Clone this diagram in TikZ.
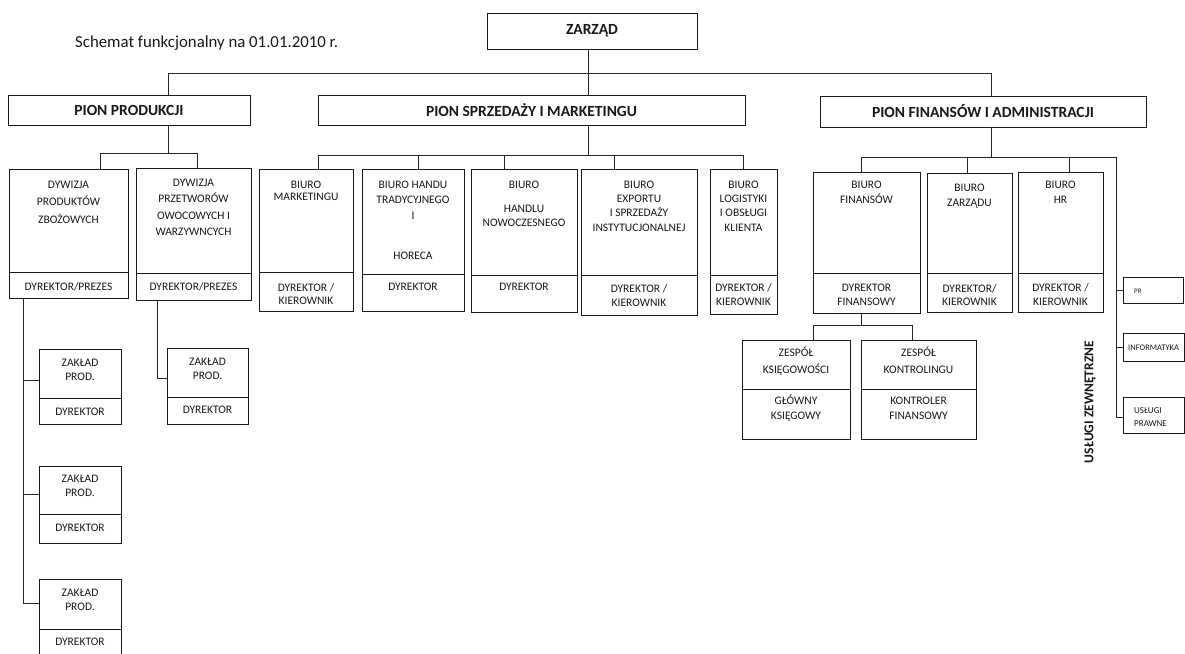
\documentclass[tikz,border=0pt]{standalone}
\usepackage{fontspec}
\setmainfont{Carlito}
\newcommand\obox[6]{%
  \node[box, minimum width={(#4-(#2))*1pt}, minimum height={(#5-(#3))*1pt}] (#1) at (#2,#3) {};
  \draw[divl] (#1.west |- 0,#6) -- (#1.east |- 0,#6);}
\begin{document}
\begin{tikzpicture}[x=1pt,y=-1pt,
  box/.style={draw=black!90, line width=1pt, inner sep=0pt, outer sep=0pt, anchor=north west},
  divl/.style={draw=black!90, line width=0.9pt},
  conn/.style={draw=black!85, line width=0.9pt},
  txt/.style={inner sep=0pt, align=center, anchor=base, text=black!90, font=\fontsize{11.5}{#1}\selectfont},
  txt/.default=14,
  ltxt/.style={inner sep=0pt, align=left, anchor=base west, text=black!90, font=\fontsize{#1}{13}\selectfont},
  pion/.style={font=\bfseries\fontsize{15.5}{18}\selectfont, text=black!90}]
\fill[white] (0,0) rectangle (1185,653);
\useasboundingbox (0,0) rectangle (1185,653);

% title
\node[anchor=base west, inner sep=0pt, text=black!90, font=\fontsize{16.8}{19}\selectfont] (title) at (75,47) {Schemat funkcjonalny na 01.01.2010 r.};

% top level
\node[box, pion, minimum width=210pt, minimum height=36pt] (zarzad) at (487,13) {ZARZĄD};
\node[box, pion, minimum width=242pt, minimum height=30pt] (pionP) at (8,95) {PION PRODUKCJI};
\node[box, pion, minimum width=427pt, minimum height=30pt] (pionS) at (318,95) {PION SPRZEDAŻY I MARKETINGU};
\node[box, pion, minimum width=326pt, minimum height=31pt] (pionF) at (820,96) {PION FINANSÓW I ADMINISTRACJI};

% boxes with two parts
\obox{d1}{9}{169}{128}{298}{272}
\obox{d2}{136}{168}{251}{300}{273}
\obox{bm}{259}{169}{353}{311}{272}
\obox{bh}{362}{169}{464}{311}{274}
\obox{bn}{471}{169}{577}{312}{275}
\obox{be}{581}{169}{697}{315}{275}
\obox{bl}{710}{169}{777}{314}{275}
\obox{bf}{813}{172}{920}{313}{273}
\obox{bz}{927}{173}{1012}{312}{273}
\obox{bhr}{1018}{172}{1103}{312}{273}
\obox{zk}{742}{340}{850}{439}{389}
\obox{zc}{861}{340}{976}{439}{389}
\obox{zA}{39}{349}{121}{424}{398}
\obox{zB}{39}{466}{121}{543}{514}
\obox{zC}{39}{579}{121}{662}{629}
\obox{zD}{167}{348}{248}{424}{397}

% external services
\node[box, minimum width=60pt, minimum height=26pt] (pr) at (1123,277) {};
\node[box, minimum width=61pt, minimum height=28pt] (inf) at (1123,333) {};
\node[box, minimum width=61pt, minimum height=36pt] (prawne) at (1123,397) {};
\node[ltxt=7] (prt) at (1134,293) {PR};
\node[ltxt=8.5] (inft) at (1128,350) {INFORMATYKA};
\node[ltxt=9] (prawnet) at (1134,426) {USŁUGI\\PRAWNE};
\node[rotate=90, inner sep=0pt, text=black!90, font=\bfseries\fontsize{13.5}{16}\selectfont] (uz) at (1090,402) {USŁUGI ZEWNĘTRZNE};

% texts (anchor base = baseline of last line)
\node[txt=17.5] (d1a) at (d1.north |- 0,223) {DYWIZJA\\PRODUKTÓW\\ZBOŻOWYCH};
\node[txt] (d1b) at (d1.north |- 0,290) {DYREKTOR/PREZES};
\node[txt=16.5] (d2a) at (d2.north |- 0,235.5) {DYWIZJA\\PRZETWORÓW\\OWOCOWYCH I\\WARZYWNCYCH};
\node[txt] (d2b) at (d2.north |- 0,290) {DYREKTOR/PREZES};
\node[txt=12.5] (bma) at (bm.north |- 0,200.5) {BIURO\\MARKETINGU};
\node[txt=13.5] (bmb) at (bm.north |- 0,304.5) {DYREKTOR /\\KIEROWNIK};
\node[txt=15.5] (bha) at (bh.north |- 0,259.5) {BIURO HANDU\\TRADYCYJNEGO\\I\\[25pt]HORECA};
\node[txt] (bhb) at (bh.north |- 0,290) {DYREKTOR};
\node[txt=14] (bna) at (bn.north |- 0,226) {BIURO\\[10pt]HANDLU\\NOWOCZESNEGO};
\node[txt] (bnb) at (bn.north |- 0,290) {DYREKTOR};
\node[txt=14.3] (bea) at (be.north |- 0,231) {BIURO\\EXPORTU\\I SPRZEDAŻY\\INSTYTUCJONALNEJ};
\node[txt=14] (beb) at (be.north |- 0,306) {DYREKTOR /\\KIEROWNIK};
\node[txt=14.3] (bla) at (bl.north |- 0,231) {BIURO\\LOGISTYKI\\I OBSŁUGI\\KLIENTA};
\node[txt=14] (blb) at (bl.north |- 0,305) {DYREKTOR /\\KIEROWNIK};
\node[txt=15] (bfa) at (bf.north |- 0,203) {BIURO\\FINANSÓW};
\node[txt=14] (bfb) at (bf.north |- 0,305) {DYREKTOR\\FINANSOWY};
\node[txt=15] (bza) at (bz.north |- 0,206) {BIURO\\ZARZĄDU};
\node[txt=13.5] (bzb) at (bz.north |- 0,305.5) {DYREKTOR/\\KIEROWNIK};
\node[txt=15] (bhra) at (bhr.north |- 0,203) {BIURO\\HR};
\node[txt=14] (bhrb) at (bhr.north |- 0,305) {DYREKTOR /\\KIEROWNIK};
\node[txt=17] (zka) at (zk.north |- 0,373) {ZESPÓŁ\\KSIĘGOWOŚCI};
\node[txt=15.5] (zkb) at (zk.north |- 0,419.5) {GŁÓWNY\\KSIĘGOWY};
\node[txt=17] (zca) at (zc.north |- 0,373) {ZESPÓŁ\\KONTROLINGU};
\node[txt=15.5] (zcb) at (zc.north |- 0,419.5) {KONTROLER\\FINANSOWY};
\node[txt=14.5] (zAa) at (zA.north |- 0,380.5) {ZAKŁAD\\PROD.};
\node[txt] (zAb) at (zA.north |- 0,415) {DYREKTOR};
\node[txt=14.5] (zBa) at (zB.north |- 0,496.5) {ZAKŁAD\\PROD.};
\node[txt] (zBb) at (zB.north |- 0,531) {DYREKTOR};
\node[txt=14.5] (zCa) at (zC.north |- 0,610.5) {ZAKŁAD\\PROD.};
\node[txt] (zCb) at (zC.north |- 0,645) {DYREKTOR};
\node[txt=14.5] (zDa) at (zD.north |- 0,379.5) {ZAKŁAD\\PROD.};
\node[txt] (zDb) at (zD.north |- 0,413) {DYREKTOR};

% connectors: top
\coordinate (tA) at (168,73);
\coordinate (tB) at (991,73);
\draw[conn] (zarzad.south -| 588,0) -- (pionS.north -| 588,0);
\draw[conn] (pionP.north -| tA) -- (tA) -- (tB) -- (pionF.north -| tB);
% production
\coordinate (pM) at (168,153);
\coordinate (pA) at (100,153);
\coordinate (pB) at (197,153);
\draw[conn] (pionP.south -| pM) -- (pM);
\draw[conn] (d1.north -| pA) -- (pA) -- (pB) -- (d2.north -| pB);
\coordinate (v1) at (23,380);
\coordinate (v2) at (23,494);
\coordinate (v3) at (23,603);
\draw[conn] (d1.south -| v1) -- (v3) -- (zC.west |- v3);
\draw[conn] (v1) -- (zA.west |- v1);
\draw[conn] (v2) -- (zB.west |- v2);
\coordinate (w1) at (157,378);
\draw[conn] (d2.south -| w1) -- (w1) -- (zD.west |- w1);
% sales
\coordinate (sM) at (588,155);
\coordinate (s1) at (318,155);
\coordinate (s2) at (418,155);
\coordinate (s3) at (504,155);
\coordinate (s4) at (614,155);
\coordinate (s5) at (743,155);
\draw[conn] (pionS.south -| sM) -- (sM);
\draw[conn] (bm.north -| s1) -- (s1) -- (s5) -- (bl.north -| s5);
\draw[conn] (bh.north -| s2) -- (s2);
\draw[conn] (bn.north -| s3) -- (s3);
\draw[conn] (be.north -| s4) -- (s4);
% finance
\coordinate (fM) at (991,157);
\coordinate (f1) at (861,157);
\coordinate (f2) at (967,157);
\coordinate (f3) at (1069,157);
\coordinate (f4) at (1116,157);
\coordinate (uB) at (1116,417);
\draw[conn] (pionF.south -| fM) -- (fM);
\draw[conn] (bf.north -| f1) -- (f1) -- (f4) -- (uB) -- (prawne.west |- uB);
\draw[conn] (bz.north -| f2) -- (f2);
\draw[conn] (bhr.north -| f3) -- (f3);
\draw[conn] (pr.west) -- (pr.west -| f4);
\draw[conn] (inf.west) -- (inf.west -| f4);
\coordinate (kM) at (861,325);
\coordinate (k1) at (813,325);
\coordinate (k2) at (912,325);
\draw[conn] (bf.south -| kM) -- (kM);
\draw[conn] (zk.north -| k1) -- (k1) -- (k2) -- (zc.north -| k2);
\end{tikzpicture}
\end{document}
